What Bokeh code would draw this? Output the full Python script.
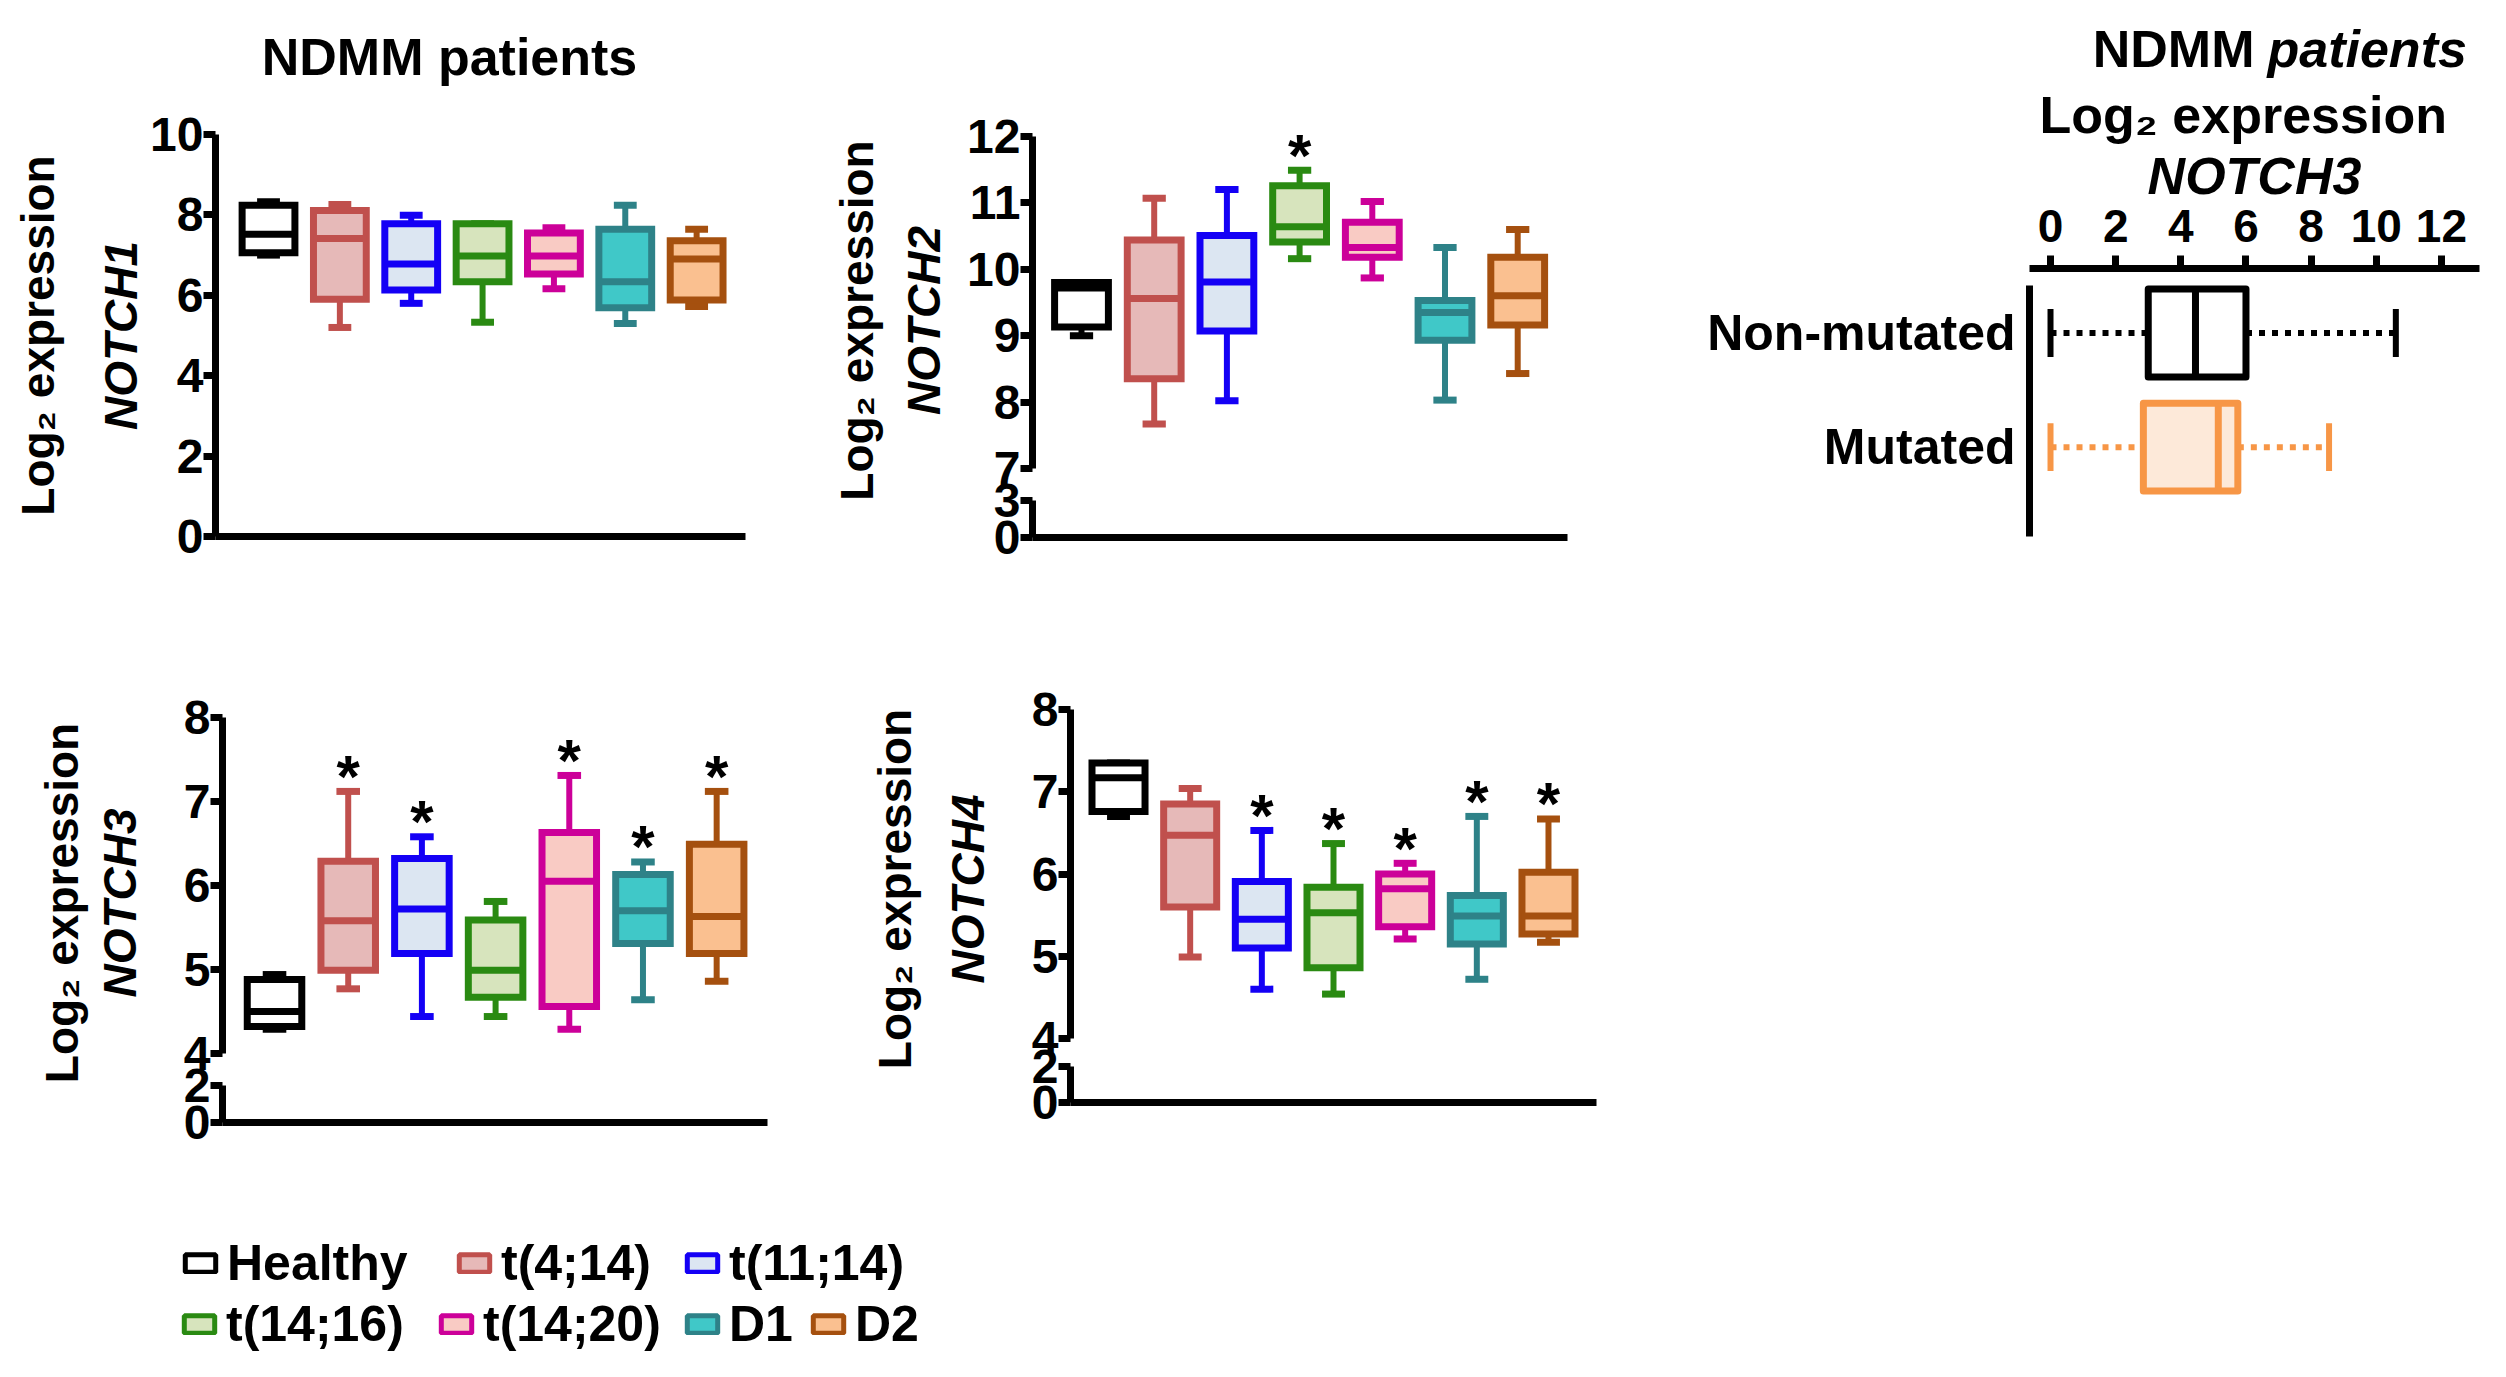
from bokeh.plotting import figure
from bokeh.models import (Range1d, FixedTicker, Title, Legend, LegendItem,
                          ColumnDataSource, LinearAxis, Spacer)
from bokeh.layouts import row, column
from bokeh.embed import file_html
from bokeh.resources import INLINE
from bokeh.core.properties import value

FONT = "Liberation Sans"

# ---------------- data ----------------
groups = ["Healthy", "t(4;14)", "t(11;14)", "t(14;16)", "t(14;20)", "D1", "D2"]
line_colors = ["#000000", "#C0504D", "#1400F5", "#2A8A12", "#CC0099", "#2E8288", "#A5500F"]
fill_colors = ["#FFFFFF", "#E6B9B8", "#DCE6F2", "#D7E4BD", "#F9CBC4", "#40C8C8", "#FAC090"]

n1_min = [7.00, 5.20, 5.80, 5.33, 6.16, 5.30, 5.72]
n1_q1 = [7.06, 5.90, 6.13, 6.34, 6.53, 5.69, 5.88]
n1_med = [7.52, 7.41, 6.78, 6.98, 6.98, 6.34, 6.90]
n1_q3 = [8.24, 8.11, 7.78, 7.78, 7.55, 7.64, 7.36]
n1_max = [8.33, 8.26, 7.99, 7.78, 7.68, 8.24, 7.64]
n1_sig = [False, False, False, False, False, False, False]

n2_min = [9.00, 7.67, 8.02, 10.16, 9.87, 8.03, 8.43]
n2_q1 = [9.13, 8.35, 9.07, 10.41, 10.18, 8.93, 9.16]
n2_med = [9.72, 9.56, 9.81, 10.64, 10.33, 9.35, 9.60]
n2_q3 = [9.80, 10.44, 10.51, 11.26, 10.71, 9.53, 10.18]
n2_max = [9.80, 11.07, 11.20, 11.49, 11.02, 10.33, 10.60]
n2_sig = [False, False, False, True, False, False, False]

n3_min = [4.29, 4.77, 4.44, 4.44, 4.29, 4.64, 4.86]
n3_q1 = [4.32, 4.99, 5.19, 4.67, 4.56, 5.31, 5.19]
n3_med = [4.50, 5.58, 5.72, 4.99, 6.05, 5.70, 5.63]
n3_q3 = [4.88, 6.29, 6.32, 5.59, 6.63, 6.13, 6.49]
n3_max = [4.94, 7.12, 6.58, 5.81, 7.31, 6.28, 7.12]
n3_sig = [False, True, True, False, True, True, True]

n4_min = [6.70, 4.99, 4.60, 4.54, 5.21, 4.72, 5.17]
n4_q1 = [6.76, 5.60, 5.10, 4.86, 5.36, 5.15, 5.27]
n4_med = [7.17, 6.47, 5.45, 5.53, 5.82, 5.49, 5.49]
n4_q3 = [7.35, 6.85, 5.91, 5.84, 6.00, 5.74, 6.02]
n4_max = [7.35, 7.04, 6.53, 6.37, 6.13, 6.70, 6.67]
n4_sig = [False, False, True, True, True, True, True]

mut_groups = ["Non-mutated", "Mutated"]
mut_line = ["#000000", "#F79646"]
mut_fill = ["#FFFFFF", "#FDE9D9"]
mut_min = [0.0, 0.0]
mut_q1 = [3.00, 2.85]
mut_med = [4.45, 5.15]
mut_q3 = [6.00, 5.75]
mut_max = [10.60, 8.55]

y1_ticks = [0, 2, 4, 6, 8, 10]
y2_hi_ticks = [7, 8, 9, 10, 11, 12]
y2_lo_ticks = [0, 3]
y34_hi_ticks = [4, 5, 6, 7, 8]
y34_lo_ticks = [0, 2]
x5_ticks = [0, 2, 4, 6, 8, 10, 12]

TITLE = "NDMM patients"
TITLE5 = ["NDMM", "patients"]
LOG2 = "Log\u2082 expression"


# ---------------- helpers ----------------
def mkfig(w, h, l, r, t, b, xr, yr, xloc="below", yloc="left"):
    p = figure(width=w, height=h, x_range=Range1d(*xr), y_range=Range1d(*yr),
               x_axis_location=xloc, y_axis_location=yloc, title=None,
               toolbar_location=None, output_backend="svg",
               min_border_left=l, min_border_right=r, min_border_top=t, min_border_bottom=b)
    p.grid.visible = False
    p.outline_line_color = None
    return p


def strip(w, h):
    p = figure(width=w, height=h, x_range=Range1d(0, w), y_range=Range1d(0, h),
               x_axis_location=None, y_axis_location=None, title=None, min_border=0,
               toolbar_location=None, output_backend="svg")
    p.grid.visible = False
    p.outline_line_color = None
    return p


def style_axis(ax, ticks, fs="48px", tick_out=12):
    ax.ticker = FixedTicker(ticks=ticks)
    ax.axis_line_width = 7
    ax.axis_line_color = "black"
    ax.major_tick_line_width = 7
    ax.major_tick_line_color = "black"
    ax.major_tick_out = tick_out
    ax.major_tick_in = 0
    ax.minor_tick_line_color = None
    ax.minor_tick_out = 0
    ax.minor_tick_in = 0
    ax.major_label_text_font = FONT
    ax.major_label_text_font_style = "bold"
    ax.major_label_text_font_size = fs
    ax.major_label_text_color = "black"
    ax.major_label_standoff = 0


def line_only(ax):
    ax.ticker = FixedTicker(ticks=[])
    ax.axis_line_width = 7
    ax.axis_line_color = "black"
    ax.major_tick_line_color = None
    ax.minor_tick_line_color = None
    ax.major_tick_out = 0
    ax.minor_tick_out = 0
    ax.major_tick_in = 0
    ax.minor_tick_in = 0
    ax.major_label_standoff = 0


def plain_x(p):
    line_only(p.xaxis[0])


def set_label(ax, text, style, standoff, size="46px"):
    ax.axis_label = text
    ax.axis_label_text_font = FONT
    ax.axis_label_text_font_style = style
    ax.axis_label_text_font_size = size
    ax.axis_label_text_color = "black"
    ax.axis_label_standoff = standoff


def label_axis(p, text, style, standoff, side="left"):
    d = LinearAxis()
    line_only(d)
    d.axis_line_color = None
    set_label(d, text, style, standoff)
    p.add_layout(d, side)
    return d


def draw_boxes(p, mins, q1s, meds, q3s, maxs, sig):
    xs = list(range(1, len(groups) + 1))
    hw, cw = 0.37, 0.16
    src = ColumnDataSource(dict(
        x=xs, xl=[x - hw for x in xs], xr=[x + hw for x in xs],
        cl=[x - cw for x in xs], cr=[x + cw for x in xs],
        lo=mins, q1=q1s, med=meds, q3=q3s, hi=maxs,
        lc=line_colors, fc=fill_colors))
    p.segment(x0="x", y0="q3", x1="x", y1="hi", source=src, line_color="lc", line_width=6)
    p.segment(x0="x", y0="lo", x1="x", y1="q1", source=src, line_color="lc", line_width=6)
    p.segment(x0="cl", y0="hi", x1="cr", y1="hi", source=src, line_color="lc", line_width=7)
    p.segment(x0="cl", y0="lo", x1="cr", y1="lo", source=src, line_color="lc", line_width=7)
    p.vbar(x="x", width=2 * hw, bottom="q1", top="q3", source=src, fill_color="fc",
           line_color="lc", line_width=7, line_join="miter")
    p.segment(x0="xl", y0="med", x1="xr", y1="med", source=src, line_color="lc", line_width=7)
    sx = [x for x, s in zip(xs, sig) if s]
    sy = [m for m, s in zip(maxs, sig) if s]
    if sx:
        p.text(x=sx, y=sy, text=["*"] * len(sx), text_font=value(FONT), text_font_style="bold",
               text_font_size="60px", text_align="center", text_baseline="middle",
               y_offset=-15, text_color="black")


def broken_panel(w, h, l, r, t, b, xr, hi_lo, hi_hi, hi_lo_px, hi_hi_px, lo_hi, lo_hi_px,
                 hi_ticks, lo_ticks, data, notch, als1, als2):
    # pixel positions are measured inside the figure canvas (from its top)
    frame_top, frame_bot = t, h - b
    ppu = (hi_lo_px - hi_hi_px) / (hi_hi - hi_lo)          # px per unit, upper segment
    y0 = hi_lo - (frame_bot - hi_lo_px) / ppu
    y1 = hi_hi + (hi_hi_px - frame_top) / ppu
    lppu = (frame_bot - lo_hi_px) / lo_hi                  # px per unit, lower segment

    def to_main(v):                                        # lower-segment value -> plot coordinate
        return y0 + v * lppu / ppu + 1e-9

    p = mkfig(w, h, l, r, t, b, xr, (y0, y1))
    plain_x(p)
    a_up = p.yaxis[0]                                      # upper segment line
    line_only(a_up)
    a_up.bounds = (hi_lo, hi_hi)
    a_lo = LinearAxis(bounds=(y0, to_main(lo_hi)))         # lower segment line
    line_only(a_lo)
    p.add_layout(a_lo, "left")
    tick_pos = [to_main(v) for v in lo_ticks] + [float(v) for v in hi_ticks]
    tick_txt = [str(v) for v in lo_ticks] + [str(v) for v in hi_ticks]
    a_tk = LinearAxis()                                    # ticks + labels of both segments
    style_axis(a_tk, tick_pos)
    a_tk.axis_line_color = None
    a_tk.major_label_overrides = {tp: tt for tp, tt in zip(tick_pos, tick_txt)}
    set_label(a_tk, notch, "bold italic", als1)
    p.add_layout(a_tk, "left")
    label_axis(p, LOG2, "bold", als2)
    draw_boxes(p, *data)
    return p


# ---------------- panel 1 : NOTCH1 ----------------
pt1 = strip(747, 90)
pt1.text(x=[441], y=[42], text=[TITLE], text_font=value(FONT), text_font_style="bold",
         text_font_size="52px", text_align="center", text_baseline="middle", text_color="black")
p1 = mkfig(747, 510, 197, 10, 36, 72, (0.257, 7.685), (0, 10))
style_axis(p1.yaxis[0], y1_ticks)
set_label(p1.yaxis[0], "NOTCH1", "bold italic", 0)
plain_x(p1)
label_axis(p1, LOG2, "bold", 29)
draw_boxes(p1, n1_min, n1_q1, n1_med, n1_q3, n1_max, n1_sig)

# ---------------- panel 2 : NOTCH2 ----------------
p2 = broken_panel(895, 600, 277, 83, 95, 71, (0.326, 7.685),
                  7, 12, 460, 128, 3, 492, y2_hi_ticks, y2_lo_ticks,
                  (n2_min, n2_q1, n2_med, n2_q3, n2_max, n2_sig), "NOTCH2", 14, 13)

# ---------------- panel 3 : NOTCH3 ----------------
p3 = broken_panel(792, 582, 214, 33, 75, 68, (0.294, 7.69),
                  4, 8, 445, 109, 2, 477, y34_hi_ticks, y34_lo_ticks,
                  (n3_min, n3_q1, n3_med, n3_q3, n3_max, n3_sig), "NOTCH3", 35, 3)

# ---------------- panel 4 : NOTCH4 ----------------
p4 = broken_panel(850, 582, 270, 54, 67, 88, (0.33, 7.67),
                  4, 8, 430, 101, 2, 458, y34_hi_ticks, y34_lo_ticks,
                  (n4_min, n4_q1, n4_med, n4_q3, n4_max, n4_sig), "NOTCH4", 35, 18)

# ---------------- panel 5 : mutated vs non-mutated ----------------
pt = strip(848, 75)
pt.text(x=[604], y=[35], text=[TITLE5[0]], text_font=value(FONT), text_font_style="bold",
        text_font_size="52px", text_align="right", text_baseline="middle", text_color="black")
pt.text(x=[617], y=[35], text=[TITLE5[1]], text_font=value(FONT), text_font_style="bold italic",
        text_font_size="52px", text_align="left", text_baseline="middle", text_color="black")

p5 = mkfig(848, 525, 379, 19, 183, 72, (-0.645, 13.168), (0.217, 2.565), xloc="above")
xa = p5.xaxis[0]
style_axis(xa, x5_ticks, fs="46px", tick_out=13)
xa.major_label_standoff = 14
set_label(xa, "NOTCH3", "bold italic", 2, size="52px")
ya = p5.yaxis[0]
ypos = [len(mut_groups) - i for i in range(len(mut_groups))]
style_axis(ya, ypos, fs="50px", tick_out=0)
ya.major_tick_line_color = None
ya.major_label_standoff = 14
ya.major_label_overrides = {y: g for y, g in zip(ypos, mut_groups)}
ya.bounds = (0.217, 2.417)
p5.add_layout(Title(text=LOG2, text_font=FONT, text_font_style="bold", text_font_size="52px",
                    align="left", offset=10, standoff=0, text_color="black"), "above")

msrc = ColumnDataSource(dict(y=ypos, lo=mut_min, q1=mut_q1, med=mut_med, q3=mut_q3, hi=mut_max,
                             lc=mut_line, fc=mut_fill,
                             yb=[y - 0.385 for y in ypos], yt=[y + 0.385 for y in ypos],
                             cb=[y - 0.21 for y in ypos], ct=[y + 0.21 for y in ypos]))
p5.segment(x0="lo", y0="y", x1="q1", y1="y", source=msrc, line_color="lc", line_width=6, line_dash="6 7")
p5.segment(x0="q3", y0="y", x1="hi", y1="y", source=msrc, line_color="lc", line_width=6, line_dash="6 7")
p5.segment(x0="lo", y0="cb", x1="lo", y1="ct", source=msrc, line_color="lc", line_width=6)
p5.segment(x0="hi", y0="cb", x1="hi", y1="ct", source=msrc, line_color="lc", line_width=6)
p5.hbar(y="y", height=0.77, left="q1", right="q3", source=msrc, fill_color="fc", line_color="lc",
        line_width=7, line_join="round")
p5.segment(x0="med", y0="yb", x1="med", y1="yt", source=msrc, line_color="lc", line_width=7)

# ---------------- legend ----------------
pl = figure(width=1000, height=179, x_range=Range1d(0, 8), y_range=Range1d(0, 12),
            x_axis_location=None, y_axis_location=None, title=None, min_border=0,
            toolbar_location=None, output_backend="svg")
pl.grid.visible = False
pl.outline_line_color = None
lsrc = ColumnDataSource(dict(x=list(range(1, len(groups) + 1)), bottom=n1_q1, top=n1_q3,
                             lc=line_colors, fc=fill_colors))
lr = pl.vbar(x="x", width=0.74, bottom="bottom", top="top", source=lsrc, line_color="lc",
             fill_color="fc", line_width=5, visible=False)
legend_pos = [(173, 77), (447, 77), (675, 77), (172, 16), (429, 16), (675, 16), (801, 16)]
for i, (g, pos) in enumerate(zip(groups, legend_pos)):
    leg = Legend(items=[LegendItem(label=g, renderers=[lr], index=i)], location=pos,
                 orientation="horizontal", glyph_width=38, glyph_height=22, label_standoff=8,
                 label_text_font=FONT, label_text_font_style="bold", label_text_font_size="50px",
                 label_text_color="black", label_text_baseline="middle", padding=0, margin=0,
                 spacing=0, border_line_color=None, background_fill_alpha=0)
    pl.add_layout(leg)

# every plot sits in its own column so that Bokeh does not align their frames
col1 = column(column(pt1), column(p1))
col5 = column(column(pt), column(p5))
lay = column(row(col1, column(p2), col5), row(column(p3), column(p4)), column(pl))
page = column(Spacer(height=8), row(Spacer(width=8), lay))
open("out.html", "w").write(file_html(page, INLINE))
